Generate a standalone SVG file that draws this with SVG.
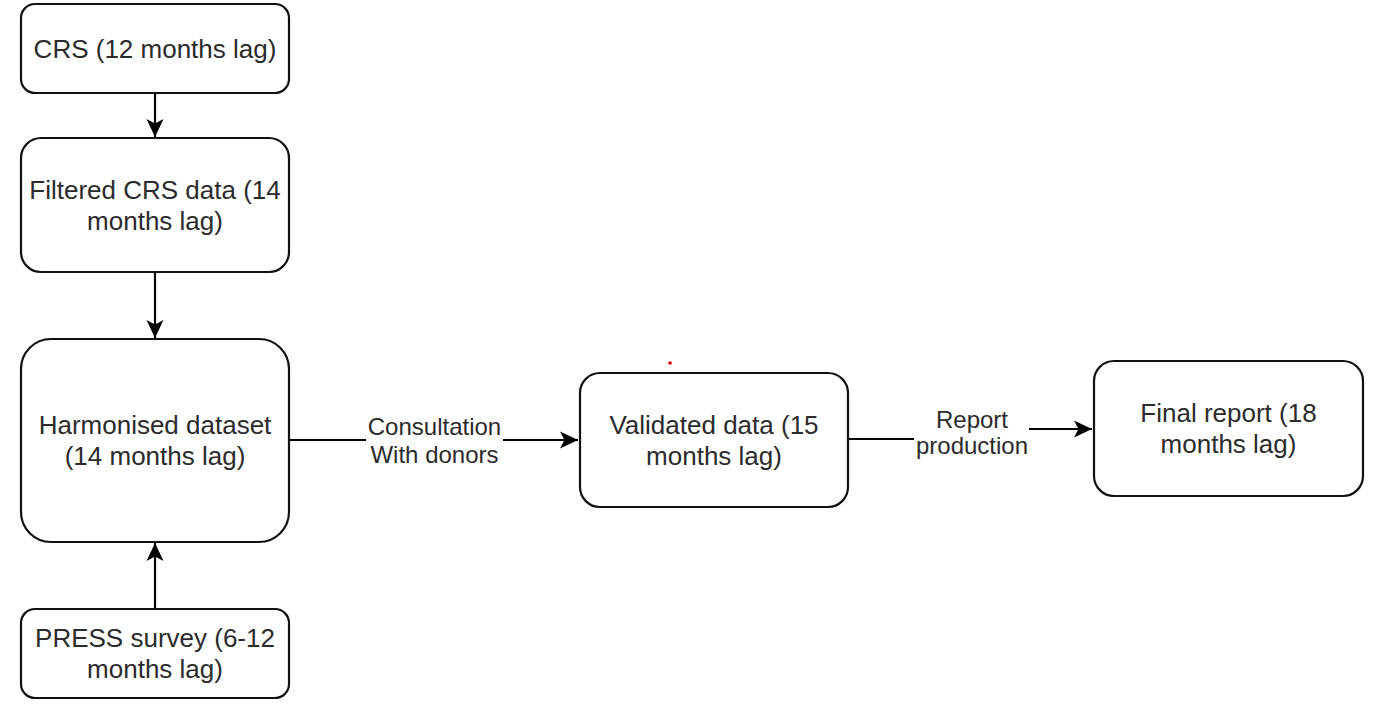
<svg xmlns="http://www.w3.org/2000/svg" width="1377" height="707" viewBox="0 0 1377 707">
<style>
.box{fill:#fff;stroke:#111;stroke-width:2.2}
.t{font-family:"Liberation Sans",Arial,sans-serif;font-size:26px;fill:#2b2b2b;text-anchor:middle}
.lbl{font-family:"Liberation Sans",Arial,sans-serif;font-size:24px;fill:#2b2b2b;text-anchor:middle}
.edge{fill:none;stroke:#000;stroke-width:2.2}
</style>
<defs>
<marker id="arr" markerUnits="userSpaceOnUse" viewBox="-19 -10 20 20" refX="0" refY="0" markerWidth="20" markerHeight="20" orient="auto">
<path d="M0,0 L-18,-8.5 L-13.5,0 L-18,8.5 Z" fill="#000"/>
</marker>
</defs>
<rect width="1377" height="707" fill="#fff"/>
<g id="connectors">
<line class="edge" x1="155" y1="93" x2="155" y2="137" marker-end="url(#arr)"/>
<line class="edge" x1="155" y1="272" x2="155" y2="338" marker-end="url(#arr)"/>
<line class="edge" x1="155" y1="609" x2="155" y2="543" marker-end="url(#arr)"/>
<line class="edge" x1="289" y1="440" x2="578" y2="440" marker-end="url(#arr)"/>
<path class="edge" d="M849,439 L972,439 L972,429 L1092,429" marker-end="url(#arr)"/>
<rect x="366" y="410" width="137" height="60" fill="#fff"/>
<text class="lbl" x="434.5" y="435">Consultation</text>
<text class="lbl" x="434.5" y="463">With donors</text>
<rect x="914" y="405" width="115" height="55" fill="#fff"/>
<text class="lbl" x="972" y="428">Report</text>
<text class="lbl" x="972" y="454">production</text>
</g>
<g id="crs">
<rect class="box" x="21" y="4" width="268" height="89" rx="14"/>
<text class="t" x="155" y="58">CRS (12 months lag)</text>
</g>
<g id="filtered">
<rect class="box" x="21" y="138" width="268" height="134" rx="20"/>
<text class="t" x="155" y="199">Filtered CRS data (14</text>
<text class="t" x="155" y="230">months lag)</text>
</g>
<g id="harmonised">
<rect class="box" x="21" y="339" width="268" height="203" rx="30"/>
<text class="t" x="155" y="434">Harmonised dataset</text>
<text class="t" x="155" y="465">(14 months lag)</text>
</g>
<g id="press">
<rect class="box" x="21" y="609" width="268" height="89" rx="14"/>
<text class="t" x="155" y="647">PRESS survey (6-12</text>
<text class="t" x="155" y="678">months lag)</text>
</g>
<g id="validated">
<rect class="box" x="580" y="373" width="268" height="134" rx="20"/>
<text class="t" x="714" y="434">Validated data (15</text>
<text class="t" x="714" y="465">months lag)</text>
</g>
<g id="final">
<rect class="box" x="1094" y="361" width="269" height="135" rx="20"/>
<text class="t" x="1228.5" y="422">Final report (18</text>
<text class="t" x="1228.5" y="453">months lag)</text>
</g>
<circle cx="670" cy="363" r="1.8" fill="#e00000"/>
</svg>
